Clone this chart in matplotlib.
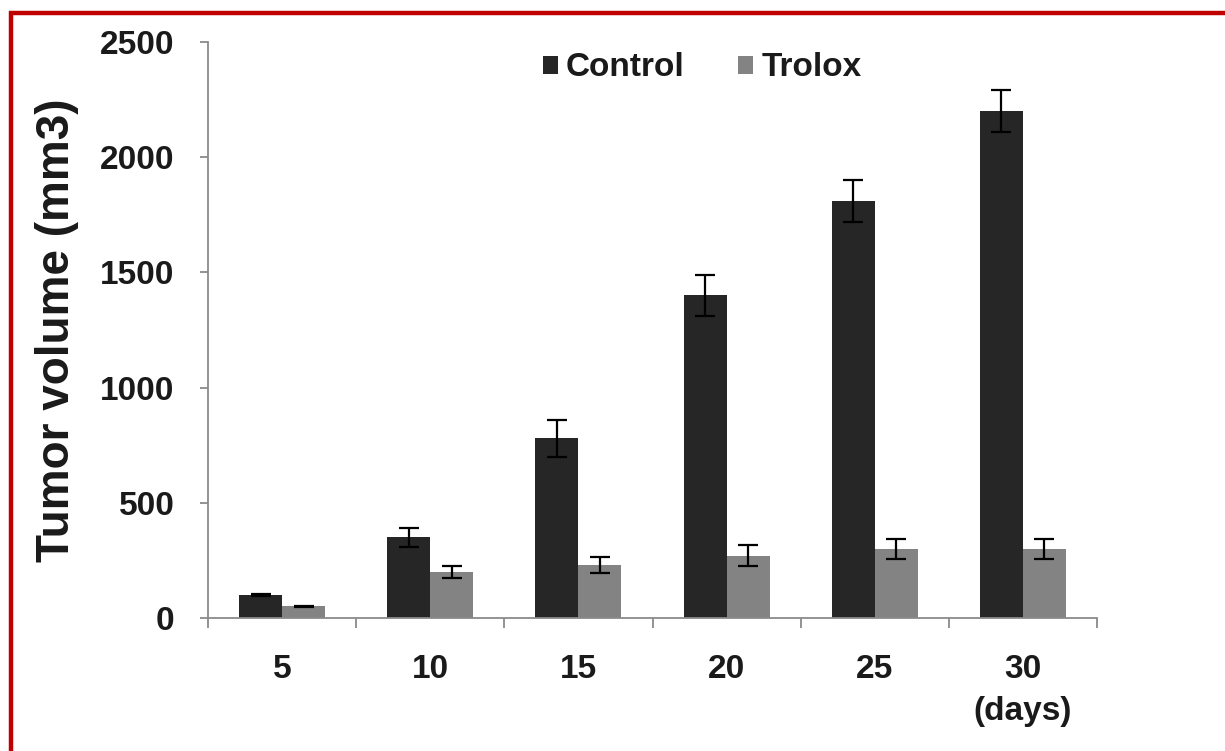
import numpy as np
import matplotlib
matplotlib.use("Agg")
import matplotlib.pyplot as plt
from matplotlib.patches import Patch
from matplotlib.lines import Line2D

# ---- data ----
days = ["5", "10", "15", "20", "25", "30\n(days)"]
control = [100, 350, 780, 1400, 1810, 2200]
control_err = [5, 40, 80, 90, 90, 90]
trolox = [50, 200, 230, 270, 300, 300]
trolox_err = [3, 25, 35, 45, 45, 45]
series_names = ["Control", "Trolox"]
y_ticks = [0, 500, 1000, 1500, 2000, 2500]

plt.rcParams['font.family'] = ['Liberation Sans', 'DejaVu Sans']

W, H = 1225, 751
fig = plt.figure(figsize=(W / 100, H / 100), dpi=100)
ax = fig.add_axes([208 / W, 1 - 618 / H, (1097 - 208) / W, (618 - 42) / H])

x = np.arange(len(days))
w = 0.29
c_ctrl = "#262626"
c_trol = "#838383"
ekw = dict(ecolor="black", elinewidth=1.6, capsize=7, capthick=1.6)
ax.bar(x - w / 2, control, w, color=c_ctrl, yerr=control_err, error_kw=ekw, zorder=2)
ax.bar(x + w / 2, trolox, w, color=c_trol, yerr=trolox_err, error_kw=ekw, zorder=2)

ax.set_xlim(-0.5, len(days) - 0.5)
ax.set_ylim(0, 2500)
ax.set_yticks(y_ticks)
ax.set_yticklabels([str(v) for v in y_ticks])

ax.set_xticks(x)
ax.set_xticklabels(days, linespacing=1.45)
ax.set_xticks(np.arange(-0.5, len(days), 1), minor=True)

for s in ["top", "right"]:
    ax.spines[s].set_visible(False)
for s in ["left", "bottom"]:
    ax.spines[s].set_color("#8a8a8a")
    ax.spines[s].set_linewidth(1.3)

ax.tick_params(axis="y", which="major", length=6, width=1.3, color="#8a8a8a", pad=18)
ax.tick_params(axis="x", which="major", length=0, pad=26)
ax.tick_params(axis="x", which="minor", length=7, width=1.3, color="#8a8a8a")
for lab in ax.get_yticklabels() + ax.get_xticklabels():
    lab.set_fontsize(24)
    lab.set_fontweight("bold")
    lab.set_color("#1a1a1a")

fig.text(57 / W, 1 - 330 / H, "Tumor volume (mm3)", rotation=90, ha="center", va="center",
         fontsize=33, fontweight="bold", color="#1a1a1a")

handles = [Patch(facecolor=c_ctrl), Patch(facecolor=c_trol)]
leg = ax.legend(handles, series_names, loc="center", bbox_to_anchor=(0.556, 0.955), ncol=2,
                frameon=False, handlelength=0.45, handleheight=0.45, handletextpad=0.25,
                columnspacing=1.6, borderpad=0, prop=dict(size=24, weight="bold"))
for t in leg.get_texts():
    t.set_color("#1a1a1a")

# red frame (left and top)
red = "#c00000"
fig.add_artist(Line2D([11 / W, 11 / W], [0, 1 - 11 / H], transform=fig.transFigure,
                      color=red, linewidth=3.2, solid_capstyle="butt"))
fig.add_artist(Line2D([9 / W, 1], [1 - 13 / H, 1 - 13 / H], transform=fig.transFigure,
                      color=red, linewidth=3.2, solid_capstyle="butt"))

fig.savefig("out.png", dpi=100)
